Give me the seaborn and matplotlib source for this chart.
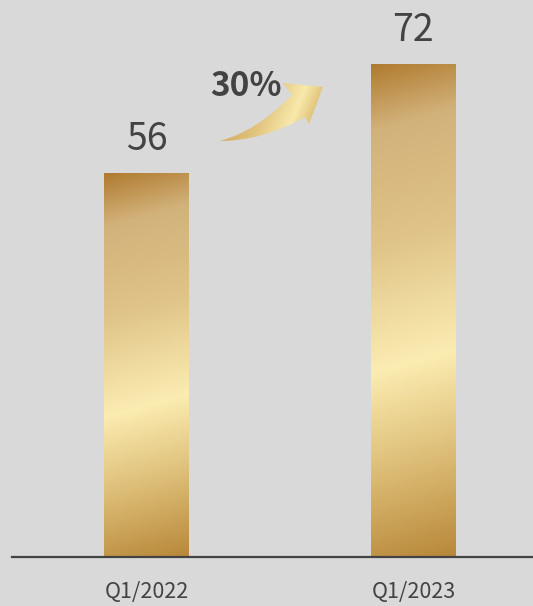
import numpy as np
import pandas as pd
import matplotlib
matplotlib.use("Agg")
import matplotlib.pyplot as plt
from matplotlib.colors import LinearSegmentedColormap
from matplotlib.path import Path
from matplotlib.patches import PathPatch
import seaborn as sns

# Data
quarters = ["Q1/2022", "Q1/2023"]
revenue = [56, 72]
growth_label = "30%"

BG = "#d9d9d9"
INK = "#434343"

sns.set_theme(style="white")
plt.rcParams["font.family"] = ["Noto Sans CJK SC", "DejaVu Sans"]

W, H, DPI = 533, 606, 100
fig = plt.figure(figsize=(W / DPI, H / DPI), dpi=DPI, facecolor=BG)
ax_left, ax_bottom = 12 / W, (H - 557) / H
ax = fig.add_axes([ax_left, ax_bottom, 1 - ax_left, 1 - ax_bottom])
ax.set_facecolor(BG)

df = pd.DataFrame({"quarter": quarters, "value": revenue})
sns.barplot(data=df, x="quarter", y="value", ax=ax, width=0.318,
            color="#d4b27a", saturation=1, edgecolor="none")

ax.set_xlim(-0.504, 1.448)
ax.set_ylim(0, 81.3)

# Gold gradient painted inside each bar
gold = LinearSegmentedColormap.from_list(
    "gold",
    [(0.0, "#b07b2f"), (0.13, "#d2b27b"), (0.35, "#dfc388"),
     (0.60, "#fbecb1"), (0.80, "#dcbc75"), (1.0, "#b8883a")])

for bar in ax.patches:
    x0, y0 = bar.get_x(), bar.get_y()
    w, h = bar.get_width(), bar.get_height()
    # pixel-size of the bar to tilt the gradient consistently
    p0 = ax.transData.transform((x0, y0))
    p1 = ax.transData.transform((x0 + w, y0 + h))
    wpx, hpx = abs(p1[0] - p0[0]), abs(p1[1] - p0[1])
    u = np.linspace(0, 1, 100)[None, :]
    v = np.linspace(0, 1, 400)[:, None]
    tilt = 0.27
    t = (v * hpx + tilt * u * wpx) / (hpx + tilt * wpx)
    t = np.clip(t, 0, 1)
    im = ax.imshow(gold(t), extent=(x0, x0 + w, y0, y0 + h), origin="upper",
                   aspect="auto", zorder=bar.get_zorder() + 0.1, interpolation="bilinear")
    im.set_clip_path(bar)
    bar.set_facecolor("none")
    ax.annotate(f"{int(h)}", (x0 + w / 2, y0 + h), xytext=(0, 16.5),
                textcoords="offset points", ha="center", va="baseline",
                fontsize=27, fontweight="light", color=INK)

ax.set_xlim(-0.504, 1.448)
ax.set_ylim(0, 81.3)

# Growth arrow between the bars (axes-fraction frame)
def frac(px, py):
    return ((px - 12) / 521, (557 - py) / 557)

verts = [frac(220, 141), frac(262, 141), frac(305, 117),
         frac(309, 124), frac(323, 87), frac(283, 83), frac(292, 95),
         frac(257, 131), frac(220, 141), frac(220, 141)]
codes = [Path.MOVETO, Path.CURVE3, Path.CURVE3,
         Path.LINETO, Path.LINETO, Path.LINETO, Path.LINETO,
         Path.CURVE3, Path.CURVE3, Path.CLOSEPOLY]
arrow = PathPatch(Path(verts, codes), transform=ax.transAxes,
                  facecolor="none", edgecolor="none", zorder=3)
ax.add_patch(arrow)
arrow_gold = LinearSegmentedColormap.from_list(
    "arrow_gold",
    [(0.0, "#c49848"), (0.45, "#e3c57f"), (0.68, "#f8e9ab"), (1.0, "#c39438")])
ax0, ay0 = frac(218, 145)
ax1, ay1 = frac(325, 80)
uu = np.linspace(0, 1, 200)[None, :]
vv = np.linspace(0, 1, 120)[:, None]
tt = np.clip(0.8 * uu + 0.2 * vv, 0, 1)
aim = ax.imshow(arrow_gold(tt), extent=(ax0, ax1, ay0, ay1), origin="upper",
                aspect="auto", transform=ax.transAxes, zorder=3.1,
                interpolation="bilinear")
aim.set_clip_path(arrow)
ax.set_xlim(-0.504, 1.448)
ax.set_ylim(0, 81.3)

tx, ty = frac(246, 96)
ax.text(tx, ty, growth_label, transform=ax.transAxes, ha="center",
        va="baseline", fontsize=24, fontweight="bold", color=INK, zorder=4)

# Axis styling
sns.despine(ax=ax, left=True, top=True, right=True)
ax.spines["bottom"].set_color(INK)
ax.spines["bottom"].set_linewidth(1.6)
ax.set_yticks([])
ax.set_xlabel("")
ax.set_ylabel("")
ax.tick_params(axis="x", length=0, pad=17, labelsize=15.5, labelcolor=INK)

fig.savefig("out.png", dpi=DPI, facecolor=BG)
